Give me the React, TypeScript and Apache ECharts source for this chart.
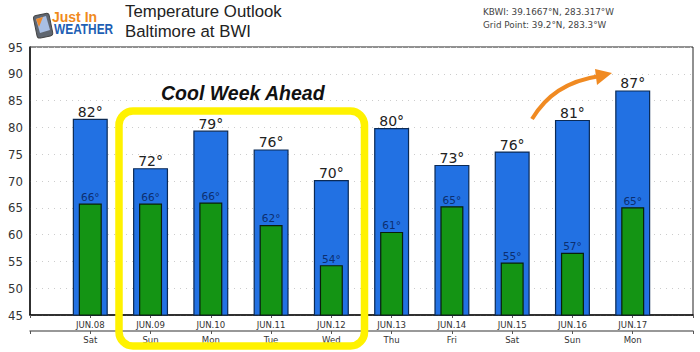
import React, { useEffect, useRef } from "react";
import * as echarts from "echarts";

const dates = ["", "JUN.08", "JUN.09", "JUN.10", "JUN.11", "JUN.12", "JUN.13", "JUN.14", "JUN.15", "JUN.16", "JUN.17", ""];
const days = ["", "Sat", "Sun", "Mon", "Tue", "Wed", "Thu", "Fri", "Sat", "Sun", "Mon", ""];
const highs = [null, 81.6, 72.4, 79.4, 75.9, 70.2, 79.9, 73.0, 75.5, 81.4, 86.9, null];
const lows = [null, 65.8, 65.8, 66.0, 61.8, 54.3, 60.5, 65.3, 54.8, 56.6, 65.1, null];
const highLabels = ["", "82°", "72°", "79°", "76°", "70°", "80°", "73°", "76°", "81°", "87°", ""];
const lowLabels = ["", "66°", "66°", "66°", "62°", "54°", "61°", "65°", "55°", "57°", "65°", ""];

const FONT = "'DejaVu Sans', sans-serif";
const COND = "'DejaVu Sans Condensed', 'DejaVu Sans', sans-serif";
const SANS = "'Liberation Sans', Arial, sans-serif";

export default function App() {
  const ref = useRef<HTMLDivElement>(null);
  useEffect(() => {
    const chart = echarts.init(ref.current!, undefined, { renderer: "svg" });
    chart.setOption({
      animation: false,
      backgroundColor: "#fff",
      grid: { left: 30, right: 7, top: 47, bottom: 37, show: true, borderColor: "#222", borderWidth: 1, backgroundColor: "transparent" },
      xAxis: [
        {
          type: "category", data: dates, boundaryGap: false, position: "bottom",
          axisLine: { lineStyle: { color: "#111", width: 1.5 } },
          axisTick: { show: true, length: 3, lineStyle: { color: "#555" } },
          axisLabel: { interval: 0, fontFamily: COND, fontSize: 9.5, color: "#333", margin: 4, showMinLabel: true, showMaxLabel: true },
        },
        {
          type: "category", data: days, boundaryGap: false, position: "bottom", offset: 16,
          axisLine: { onZero: false, lineStyle: { color: "#777", width: 1.5 } },
          axisTick: { show: true, length: 3, lineStyle: { color: "#555" } },
          axisLabel: { interval: 0, fontFamily: COND, fontSize: 9.5, color: "#333", margin: 3, showMinLabel: true, showMaxLabel: true },
        },
      ],
      yAxis: {
        type: "value", min: 45, max: 95, interval: 5,
        axisLine: { show: true, lineStyle: { color: "#111", width: 1.5 } },
        axisTick: { show: false },
        axisLabel: { fontFamily: COND, fontSize: 13, color: "#333", margin: 7 },
        splitLine: { show: true, lineStyle: { color: "#ccc", type: [1, 5], width: 1 } },
      },
      series: [
        {
          type: "bar", name: "High", xAxisIndex: 0, data: highs, barWidth: 35,
          itemStyle: { color: "#2271e3", borderColor: "#0b2a55", borderWidth: 1.2 },
          label: {
            show: true, position: "top", distance: 0, fontFamily: FONT, fontSize: 14, color: "#222",
            formatter: (p: any) => highLabels[p.dataIndex],
          },
        },
        {
          type: "bar", name: "Low", xAxisIndex: 1, data: lows, barWidth: 23,
          itemStyle: { color: "#149414", borderColor: "#0a1f0a", borderWidth: 1.2 },
          label: {
            show: true, position: "top", distance: 1, fontFamily: FONT, fontSize: 10.5, color: "#0c2f70",
            formatter: (p: any) => lowLabels[p.dataIndex],
          },
        },
      ],
      graphic: [
        { type: "rect", z: 50, shape: { x: 119, y: 111, width: 245.5, height: 235, r: 14 }, style: { fill: "none", stroke: "#fff200", lineWidth: 7.5 } },
        { type: "text", z: 50, x: 161, y: 83, style: { text: "Cool Week Ahead", font: `italic bold 19.5px ${SANS}`, fill: "#111" } },
        { type: "text", z: 50, x: 125, y: 3, style: { text: "Temperature Outlook", font: `16.8px ${SANS}`, fill: "#222" } },
        { type: "text", z: 50, x: 125, y: 23, style: { text: "Baltimore at BWI", font: `16.8px ${SANS}`, fill: "#222" } },
        { type: "text", z: 50, x: 483, y: 7, style: { text: "KBWI: 39.1667°N, 283.317°W", font: `8.8px ${FONT}`, fill: "#444" } },
        { type: "text", z: 50, x: 483, y: 20, style: { text: "Grid Point: 39.2°N, 283.3°W", font: `8.8px ${FONT}`, fill: "#444" } },
        { type: "text", z: 50, x: 52, y: 10, style: { text: "Just In", font: `bold 14px ${SANS}`, fill: "#f08a1d" } },
        { type: "text", z: 50, x: 54, y: 22, scaleX: 0.82, style: { text: "WEATHER", font: `bold 14.5px ${SANS}`, fill: "#1e5fb4" } },
        { type: "rect", z: 50, rotation: 0.2, x: 33, y: 16, shape: { x: 0, y: 0, width: 16, height: 23, r: 3 }, style: { fill: "#5f6670", stroke: "#444", lineWidth: 1 } },
        { type: "polygon", z: 51, shape: { points: [[36, 19], [46, 16], [50, 30], [40, 33]] }, style: { fill: "#a9bfe4" } },
        { type: "polygon", z: 52, shape: { points: [[36, 19], [43, 17], [39, 27]] }, style: { fill: "#ee8a2c" } },
        { type: "bezierCurve", z: 50, shape: { x1: 532, y1: 119, cpx1: 546, cpy1: 96, cpx2: 566, cpy2: 81, x2: 600, y2: 76 }, style: { fill: "none", stroke: "#f08a22", lineWidth: 4 } },
        { type: "polygon", z: 50, shape: { points: [[595, 69], [612, 73], [597, 85]] }, style: { fill: "#f08a22" } },
      ],
    });
    return () => chart.dispose();
  }, []);
  return <div ref={ref} style={{ position: "fixed", left: 0, top: 0, width: 700, height: 352 }} />;
}
